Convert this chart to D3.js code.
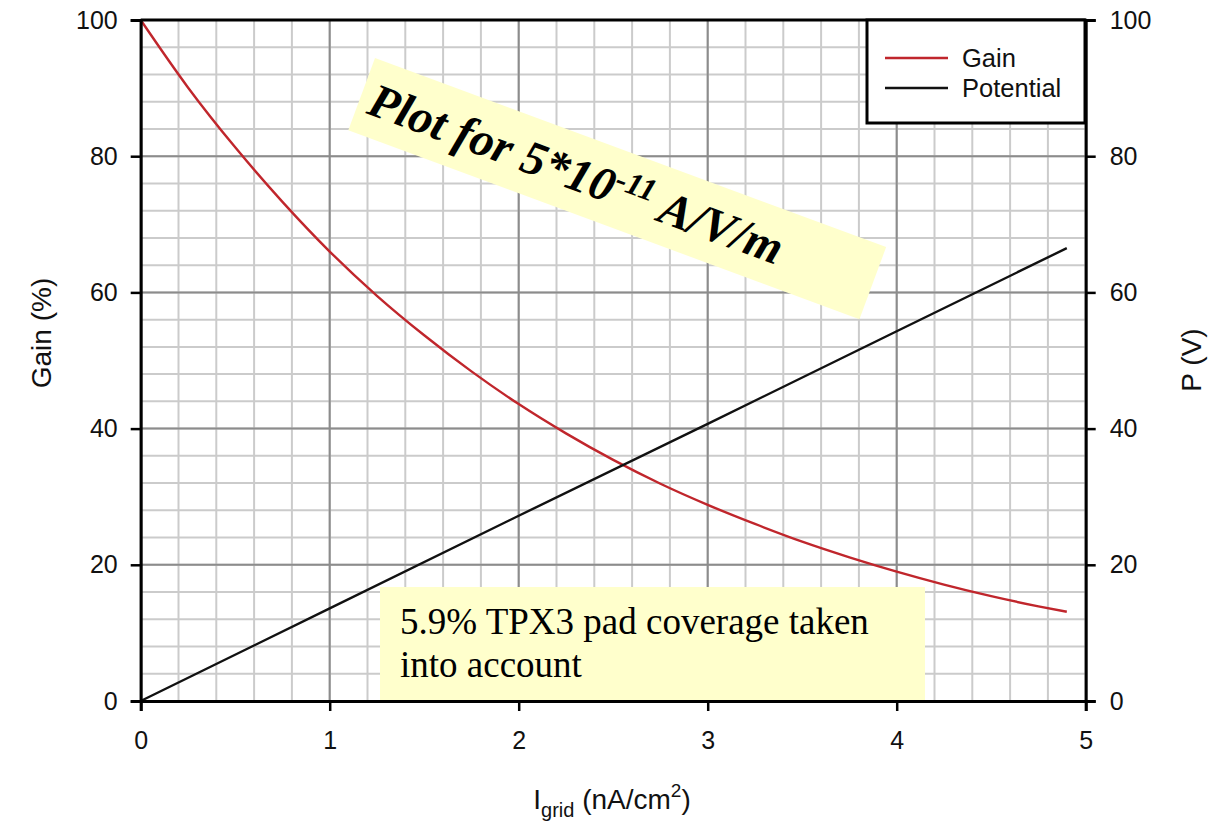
<!DOCTYPE html>
<html>
<head>
<meta charset="utf-8">
<script src="https://cdn.jsdelivr.net/npm/d3@7"></script>
<style>
  body { margin: 0; background: #fff; }
  svg { display: block; }
  .tick text { font-family: "Liberation Sans", Arial, sans-serif; font-size: 25px; fill: #111; }
</style>
</head>
<body>
<svg id="chart" width="1219" height="823"></svg>
<script>
// values
const gridCurrent = [0, 0.25, 0.5, 0.75, 1.0, 1.25, 1.5, 1.75, 2.0, 2.25, 2.5, 2.75, 3.0, 3.25, 3.5, 3.75, 4.0, 4.25, 4.5, 4.75, 4.9];
const gainValues = [100, 90.1, 81.3, 73.3, 66.0, 59.5, 53.7, 48.4, 43.6, 39.3, 35.4, 31.9, 28.8, 26.0, 23.4, 21.1, 19.0, 17.1, 15.4, 13.9, 13.1];
const potCurrent = [0, 1, 2, 3, 4, 4.9];
const potValues = [0, 13.6, 27.2, 40.7, 54.3, 66.5];

const xTicks = [0, 1, 2, 3, 4, 5];
const yTicks = [0, 20, 40, 60, 80, 100];
const legendLabels = ["Gain", "Potential"];

const svg = d3.select("#chart");
const plotLeft = 140.7, plotRight = 1085.7, plotTop = 20, plotBottom = 701;

const x = d3.scaleLinear().domain([0, 5]).range([plotLeft, plotRight]);
const yGain = d3.scaleLinear().domain([0, 100]).range([plotBottom, plotTop]);
const yPot = d3.scaleLinear().domain([0, 100]).range([plotBottom, plotTop]);

// grid - minor first, then major
const grid = svg.append("g");
grid.selectAll(".vminor").data(d3.range(0, 5.001, 0.2))
  .enter().append("line")
  .attr("x1", d => x(d)).attr("x2", d => x(d))
  .attr("y1", plotTop).attr("y2", plotBottom)
  .attr("stroke", "#cbcbcb").attr("stroke-width", 2);
grid.selectAll(".hminor").data(d3.range(0, 100.1, 4))
  .enter().append("line")
  .attr("x1", plotLeft).attr("x2", plotRight)
  .attr("y1", d => yGain(d)).attr("y2", d => yGain(d))
  .attr("stroke", "#cbcbcb").attr("stroke-width", 2);
grid.selectAll(".vmajor").data(xTicks)
  .enter().append("line")
  .attr("x1", d => x(d)).attr("x2", d => x(d))
  .attr("y1", plotTop).attr("y2", plotBottom)
  .attr("stroke", "#8c8c8c").attr("stroke-width", 2);
grid.selectAll(".hmajor").data(yTicks)
  .enter().append("line")
  .attr("x1", plotLeft).attr("x2", plotRight)
  .attr("y1", d => yGain(d)).attr("y2", d => yGain(d))
  .attr("stroke", "#8c8c8c").attr("stroke-width", 2);

// curves
const gainLine = d3.line()
  .x((d, i) => x(gridCurrent[i]))
  .y(d => yGain(d))
  .curve(d3.curveMonotoneX);
svg.append("path").datum(gainValues)
  .attr("d", gainLine)
  .attr("fill", "none").attr("stroke", "#c0262c").attr("stroke-width", 2.4);

const potLine = d3.line()
  .x((d, i) => x(potCurrent[i]))
  .y(d => yPot(d));
svg.append("path").datum(potValues)
  .attr("d", potLine)
  .attr("fill", "none").attr("stroke", "#111").attr("stroke-width", 2.4);

// bottom note box
const serif = "'Liberation Serif', 'Times New Roman', serif";
const note = svg.append("g");
note.append("rect")
  .attr("x", 380).attr("y", 587).attr("width", 545).attr("height", 113)
  .attr("fill", "#ffffcc");
note.append("text")
  .attr("x", 400).attr("y", 634)
  .style("font-family", serif).style("font-size", "37px")
  .text("5.9% TPX3 pad coverage taken");
note.append("text")
  .attr("x", 400).attr("y", 677)
  .style("font-family", serif).style("font-size", "37px")
  .text("into account");

// axes
const xAxis = svg.append("g")
  .attr("transform", `translate(0,${plotBottom})`)
  .call(d3.axisBottom(x).tickValues(xTicks).tickSize(10).tickPadding(20).tickFormat(d3.format("d")));
const yAxisL = svg.append("g")
  .attr("transform", `translate(${plotLeft},0)`)
  .call(d3.axisLeft(yGain).tickValues(yTicks).tickSize(10).tickPadding(13));
const yAxisR = svg.append("g")
  .attr("transform", `translate(${plotRight},0)`)
  .call(d3.axisRight(yPot).tickValues(yTicks).tickSize(10).tickPadding(14));
[xAxis, yAxisL, yAxisR].forEach(a => {
  a.select(".domain").attr("stroke", "#000").attr("stroke-width", 3);
  a.selectAll(".tick line").attr("stroke", "#000").attr("stroke-width", 2.5);
});
svg.append("line")
  .attr("x1", plotLeft).attr("x2", plotRight).attr("y1", plotTop).attr("y2", plotTop)
  .attr("stroke", "#000").attr("stroke-width", 3);

// legend
const sans = "'Liberation Sans', Arial, sans-serif";
const legend = svg.append("g");
legend.append("rect")
  .attr("x", 867).attr("y", 20).attr("width", 218).attr("height", 103)
  .attr("fill", "#fff").attr("stroke", "#000").attr("stroke-width", 3);
const legendColors = ["#c0262c", "#111"];
legendLabels.forEach((lab, i) => {
  const ly = 58 + i * 30;
  legend.append("line")
    .attr("x1", 885).attr("x2", 948).attr("y1", ly).attr("y2", ly)
    .attr("stroke", legendColors[i]).attr("stroke-width", 2.4);
  legend.append("text")
    .attr("x", 962).attr("y", ly).attr("dy", "0.36em")
    .style("font-family", sans).style("font-size", "25.5px").attr("fill", "#111")
    .text(lab);
});

// axis titles
svg.append("text")
  .attr("transform", "translate(51,333) rotate(-90)")
  .attr("text-anchor", "middle")
  .style("font-family", sans).style("font-size", "28px").attr("fill", "#111")
  .text("Gain (%)");
svg.append("text")
  .attr("transform", "translate(1201,360) rotate(-90)")
  .attr("text-anchor", "middle")
  .style("font-family", sans).style("font-size", "28px").attr("fill", "#111")
  .text("P (V)");
const xt = svg.append("text")
  .attr("x", 612).attr("y", 809)
  .attr("text-anchor", "middle")
  .style("font-family", sans).style("font-size", "28px").attr("fill", "#111");
xt.append("tspan").text("I");
xt.append("tspan").attr("dy", 8).style("font-size", "20px").text("grid");
xt.append("tspan").attr("dy", -8).text(" (nA/cm");
xt.append("tspan").attr("dy", -12).style("font-size", "19px").text("2");
xt.append("tspan").attr("dy", 12).text(")");

// rotated banner
const banner = svg.append("g")
  .attr("transform", "translate(375,58) rotate(20.3)");
banner.append("rect")
  .attr("x", 0).attr("y", 0).attr("width", 545).attr("height", 77)
  .attr("fill", "#ffffcc");
const bt = banner.append("text")
  .attr("x", 10).attr("y", 55)
  .style("font-family", serif)
  .style("font-size", "48px").style("font-weight", "bold").style("font-style", "italic")
  .attr("fill", "#000");
bt.append("tspan").text("Plot for 5*10");
bt.append("tspan").attr("dy", -16).style("font-size", "32px").text("-11");
bt.append("tspan").attr("dy", 16).text(" A/V/m");
</script>
</body>
</html>
